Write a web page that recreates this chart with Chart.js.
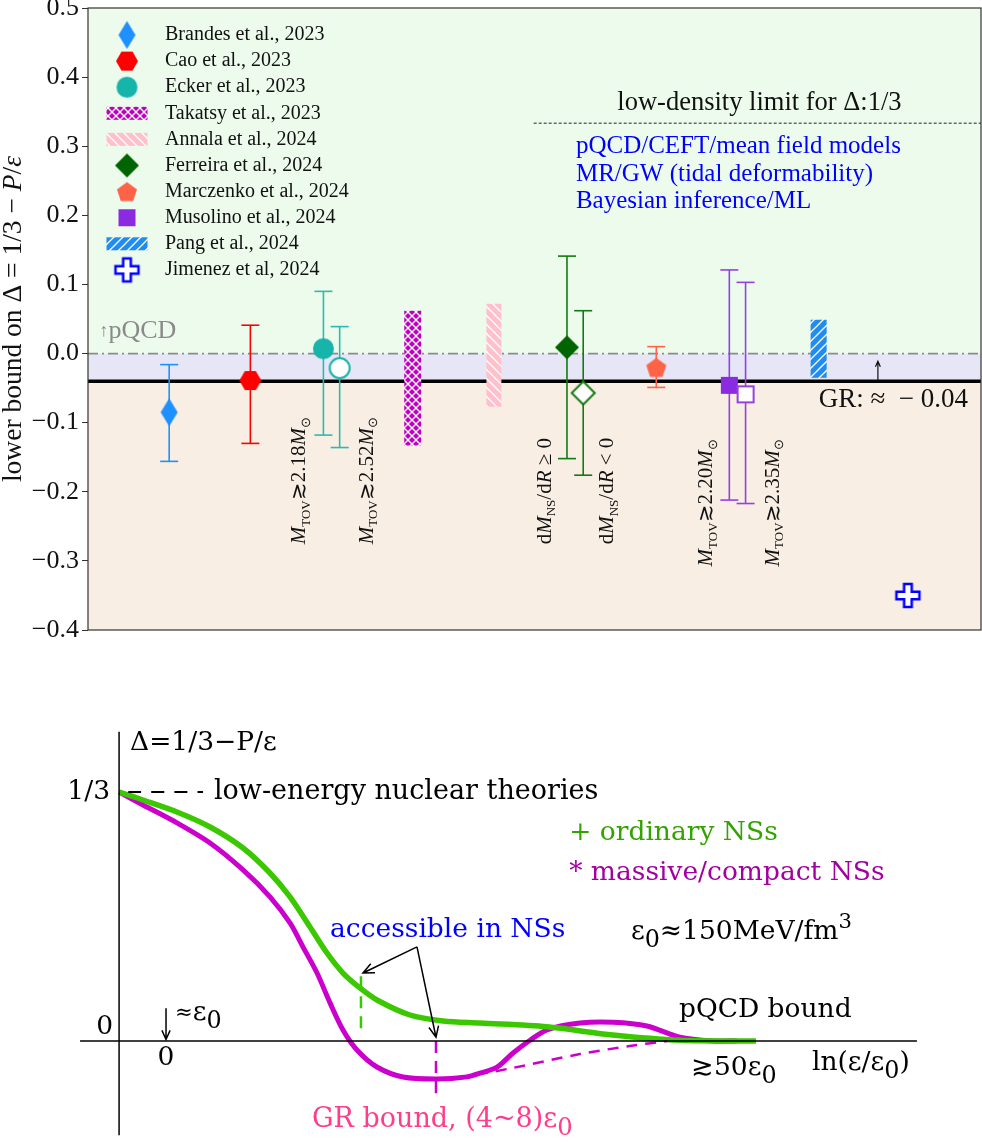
<!DOCTYPE html>
<html>
<head>
<meta charset="utf-8">
<script src="https://cdn.jsdelivr.net/npm/chart.js@4.4.1/dist/chart.umd.min.js"></script>
<style>
  body { margin: 0; background: #fff; }
  canvas { display: block; }
</style>
</head>
<body>
<canvas id="bounds" width="982" height="660"></canvas>
<canvas id="sketch" width="982" height="482"></canvas>
<script>
// ---- top panel: lower bounds on the trace anomaly ----
const studies = ['Brandes et al., 2023', 'Cao et al., 2023', 'Ecker et al., 2023', 'Takatsy et al., 2023',
  'Annala et al., 2024', 'Ferreira et al., 2024', 'Marczenko et al., 2024', 'Musolino et al., 2024',
  'Pang et al., 2024', 'Jimenez et al, 2024'];

// point estimates (x = slot on the horizontal axis)
const pointX = [1.0, 2.0, 2.9, 3.1, 5.9, 6.1, 7.0, 7.9, 8.1, 10.1];
const pointY = [-0.085, -0.039, 0.007, -0.021, 0.009, -0.057, -0.020, -0.046, -0.059, -0.350];
const errHi = [-0.016, 0.041, 0.090, 0.039, 0.141, 0.062, 0.010, 0.121, 0.103, null];
const errLo = [-0.156, -0.130, -0.118, -0.136, -0.152, -0.176, -0.049, -0.212, -0.217, null];

// ranges shown as hatched bands (Takatsy, Annala, Pang)
const bandX = [4, 5, 9];
const bandHi = [0.062, 0.072, 0.049];
const bandLo = [-0.133, -0.077, -0.035];

const pqcdBound = 0;
const grBound = -0.04;
const lowDensityLimit = 1 / 3;
const yTicks = [0.5, 0.4, 0.3, 0.2, 0.1, 0.0, -0.1, -0.2, -0.3, -0.4];

// ---- bottom panel: schematic Delta(ln eps/eps0) ----
const ordinaryX = [-0.326, -0.160, 0.076, 0.306, 0.535, 0.722, 0.861, 1.0, 1.118, 1.229, 1.347, 1.465, 1.694, 1.924, 2.181, 2.646, 3.104, 3.569, 4.097];
const ordinaryY = [0.3333, 0.3226, 0.3066, 0.2865, 0.2584, 0.2249, 0.1928, 0.1526, 0.1178, 0.0910, 0.0710, 0.0549, 0.0348, 0.0268, 0.024, 0.019, 0.008, 0.001, 0.0];
const massiveX = [-0.326, -0.160, 0.076, 0.306, 0.535, 0.722, 0.861, 0.951, 1.049, 1.139, 1.229, 1.326, 1.465, 1.646, 1.882, 2.090, 2.181, 2.299, 2.410, 2.528, 2.646, 2.875, 3.104, 3.340, 3.569, 3.799, 3.965];
const massiveY = [0.3333, 0.316, 0.292, 0.265, 0.229, 0.193, 0.158, 0.126, 0.091, 0.051, 0.0147, -0.012, -0.0348, -0.0482, -0.0509, -0.048, -0.043, -0.035, -0.016, 0.001, 0.015, 0.024, 0.025, 0.020, 0.005, 0.0, 0.0];
const monotoneX = [2.16, 2.41, 2.875, 3.22, 3.48];
const monotoneY = [-0.045, -0.036, -0.0175, -0.0067, 0.0];
const ordinaryMark = 1.354;   // ln(eps/eps0) where ordinary NSs end
const grMark = 1.875;         // ln(eps/eps0) of the GR bound
const pqcdOnset = 3.91;       // ln 50

const fontTop = '"Liberation Serif", "Times New Roman", serif';
const fontBot = '"DejaVu Serif", serif';

// ---------- helpers ----------
function makeMarker(shape, w, h, fill, stroke, lw) {
  const pad = 3;
  const c = document.createElement('canvas');
  c.width = Math.ceil(w + 2 * pad);
  c.height = Math.ceil(h + 2 * pad);
  const g = c.getContext('2d');
  g.translate(c.width / 2, c.height / 2);
  g.beginPath();
  if (shape === 'diamond') {
    g.moveTo(0, -h / 2); g.lineTo(w / 2, 0); g.lineTo(0, h / 2); g.lineTo(-w / 2, 0);
  } else if (shape === 'hexagon') {
    g.moveTo(w / 2, 0); g.lineTo(w / 4, -h / 2); g.lineTo(-w / 4, -h / 2);
    g.lineTo(-w / 2, 0); g.lineTo(-w / 4, h / 2); g.lineTo(w / 4, h / 2);
  } else if (shape === 'circle') {
    g.arc(0, 0, w / 2, 0, Math.PI * 2);
  } else if (shape === 'square') {
    g.rect(-w / 2, -h / 2, w, h);
  } else if (shape === 'pentagon') {
    const r = w / 2 / Math.sin(Math.PI * 2 / 5);
    for (let k = 0; k < 5; k++) {
      const a = -Math.PI / 2 + k * Math.PI * 2 / 5;
      g[k ? 'lineTo' : 'moveTo'](r * Math.cos(a), r * Math.sin(a) + r * 0.1);
    }
  } else if (shape === 'plus') {
    const t = w / 6;
    const s = w / 2;
    g.moveTo(-t, -s); g.lineTo(t, -s); g.lineTo(t, -t); g.lineTo(s, -t); g.lineTo(s, t); g.lineTo(t, t);
    g.lineTo(t, s); g.lineTo(-t, s); g.lineTo(-t, t); g.lineTo(-s, t); g.lineTo(-s, -t); g.lineTo(-t, -t);
  }
  g.closePath();
  g.fillStyle = fill;
  g.fill();
  if (stroke) { g.strokeStyle = stroke; g.lineWidth = lw; g.stroke(); }
  return c;
}

function hatch(ctx, base, kind, s) {
  const c = document.createElement('canvas');
  c.width = c.height = s;
  const g = c.getContext('2d');
  g.fillStyle = base;
  g.fillRect(0, 0, s, s);
  g.strokeStyle = '#fff';
  g.lineWidth = 1.3;
  const seg = (x1, y1, x2, y2) => { g.beginPath(); g.moveTo(x1, y1); g.lineTo(x2, y2); g.stroke(); };
  if (kind === '/' || kind === 'x') { seg(-1, s + 1, s + 1, -1); seg(-1, 1, 1, -1); seg(s - 1, s + 1, s + 1, s - 1); }
  if (kind === '\\' || kind === 'x') { seg(-1, -1, s + 1, s + 1); seg(s - 1, -1, s + 1, 1); seg(-1, s - 1, 1, s + 1); }
  return ctx.createPattern(c, 'repeat');
}

// runs: [text, kind, scale]  kind: '' | 'i' | 'sub' | 'sup'
function drawRuns(ctx, runs, x, y, size, family, color, align) {
  const fontOf = r => {
    const sc = r[2] || ((r[1] === 'sub' || r[1] === 'sup') ? 0.68 : 1);
    return (r[1] === 'i' ? 'italic ' : '') + (size * sc) + 'px ' + family;
  };
  let w = 0;
  runs.forEach(r => { ctx.font = fontOf(r); w += ctx.measureText(r[0]).width; });
  let cx = align === 'center' ? x - w / 2 : align === 'right' ? x - w : x;
  ctx.fillStyle = color;
  ctx.textBaseline = 'middle';
  ctx.textAlign = 'left';
  runs.forEach(r => {
    ctx.font = fontOf(r);
    const dy = r[1] === 'sub' ? size * 0.32 : r[1] === 'sup' ? -size * 0.35 : 0;
    ctx.fillText(r[0], cx, y + dy);
    cx += ctx.measureText(r[0]).width;
  });
  return w;
}

function drawArrow(ctx, x1, y1, x2, y2, head, color, lw) {
  const ang = Math.atan2(y2 - y1, x2 - x1);
  ctx.save();
  ctx.strokeStyle = color;
  ctx.lineWidth = lw;
  ctx.setLineDash([]);
  ctx.beginPath();
  ctx.moveTo(x1, y1); ctx.lineTo(x2, y2);
  ctx.moveTo(x2 - head * Math.cos(ang - 0.42), y2 - head * Math.sin(ang - 0.42));
  ctx.lineTo(x2, y2);
  ctx.lineTo(x2 - head * Math.cos(ang + 0.42), y2 - head * Math.sin(ang + 0.42));
  ctx.stroke();
  ctx.restore();
}

// ---------- top chart ----------
const topCanvas = document.getElementById('bounds');
const topCtx = topCanvas.getContext('2d');

const teal = '#17b4ab';
const markers = [
  makeMarker('diamond', 17, 28, '#1e90ff'),
  makeMarker('hexagon', 22, 19, '#ff0000'),
  makeMarker('circle', 21, 21, teal),
  makeMarker('circle', 20, 20, '#ffffff', teal, 2),
  makeMarker('diamond', 24, 24, '#006400'),
  makeMarker('diamond', 23, 23, '#ffffff', '#117a11', 2),
  makeMarker('pentagon', 20, 20, '#ff6347'),
  makeMarker('square', 17, 17, '#8a2be2'),
  makeMarker('square', 16, 16, '#ffffff', '#9440e4', 2),
  makeMarker('plus', 23, 23, '#ffffff', '#0000ff', 2.5)
];
const errColors = ['#1e90ff', '#ff0000', '#2bbab2', '#2bbab2', '#117a11', '#117a11', '#ff6347', '#9440e4', '#9440e4', null];

const bandFills = [
  hatch(topCtx, '#c000c0', 'x', 8),
  hatch(topCtx, '#ffc0cb', '\\', 9),
  hatch(topCtx, '#1e8cf0', '/', 9)
];
const bandWidths = [17, 15, 16];

const legendMarks = [markers[0], markers[1], markers[2], bandFills[0], bandFills[1],
  markers[4], markers[6], markers[7], bandFills[2], markers[9]];

const datasets = [];

pointX.forEach((x, i) => {
  if (errHi[i] === null) return;
  datasets.push({
    type: 'line',
    data: [{ x, y: errLo[i] }, { x, y: errHi[i] }],
    borderColor: errColors[i],
    borderWidth: 1.6,
    pointStyle: 'line',
    pointRadius: 9,
    pointBorderWidth: 1.6,
    pointBorderColor: errColors[i],
    order: 2
  });
});

bandX.forEach((x, i) => {
  datasets.push({
    type: 'bar',
    data: [{ x, y: [bandLo[i], bandHi[i]] }],
    backgroundColor: bandFills[i],
    borderWidth: 0,
    grouped: false,
    maxBarThickness: bandWidths[i],
    order: 3
  });
});

datasets.push({
  type: 'scatter',
  data: pointX.map((x, i) => ({ x, y: pointY[i] })),
  pointStyle: markers,
  pointRadius: 10,
  order: 0
});

const mtov = v => [['M', 'i'], ['TOV', 'sub', 0.62], ['≳' + v], ['M', 'i'], ['⊙', 'sub', 0.6]];
const dmdr = op => [['d'], ['M', 'i'], ['NS', 'sub', 0.62], ['/d'], ['R', 'i'], [op]];
const sideLabels = [
  { x: 2.61, y: -0.276, runs: mtov('2.18') },
  { x: 3.44, y: -0.276, runs: mtov('2.52') },
  { x: 5.63, y: -0.276, runs: dmdr(' ≥ 0') },
  { x: 6.40, y: -0.276, runs: dmdr(' < 0') },
  { x: 7.62, y: -0.308, runs: mtov('2.20') },
  { x: 8.44, y: -0.308, runs: mtov('2.35') }
];

const boundsDecor = {
  id: 'boundsDecor',
  beforeDatasetsDraw(chart) {
    const { ctx, chartArea: a, scales: { x, y } } = chart;
    ctx.save();
    const regions = [[y.max, pqcdBound, '#edfbed'], [pqcdBound, grBound, '#e6e6f7'], [grBound, y.min, '#f9eee3']];
    regions.forEach(([t, b, col]) => {
      const yt = y.getPixelForValue(t);
      ctx.fillStyle = col;
      ctx.fillRect(a.left, yt, a.width, y.getPixelForValue(b) - yt);
    });
    const y0 = y.getPixelForValue(pqcdBound);
    ctx.strokeStyle = '#8c8c8c';
    ctx.lineWidth = 1.8;
    ctx.setLineDash([10, 4, 2, 4]);
    ctx.beginPath(); ctx.moveTo(a.left, y0); ctx.lineTo(a.right, y0); ctx.stroke();

    const yg = y.getPixelForValue(grBound);
    ctx.setLineDash([]);
    ctx.strokeStyle = '#000';
    ctx.lineWidth = 3.5;
    ctx.beginPath(); ctx.moveTo(a.left, yg); ctx.lineTo(a.right, yg); ctx.stroke();

    const yl = y.getPixelForValue(lowDensityLimit);
    ctx.setLineDash([3, 2]);
    ctx.lineWidth = 1;
    ctx.strokeStyle = '#222';
    ctx.beginPath(); ctx.moveTo(x.getPixelForValue(5.49), yl); ctx.lineTo(a.right, yl); ctx.stroke();
    ctx.restore();
  },
  afterDatasetsDraw(chart) {
    const { ctx, chartArea: a, scales: { x, y } } = chart;
    const px = v => x.getPixelForValue(v);
    const py = v => y.getPixelForValue(v);
    ctx.save();
    ctx.strokeStyle = '#333';
    ctx.lineWidth = 1.2;
    ctx.strokeRect(a.left, a.top, a.width, a.height);

    // legend
    studies.forEach((name, i) => {
      const cy = a.top + 27 + 26.1 * i;
      const cx = a.left + 39;
      const m = legendMarks[i];
      if (m instanceof HTMLCanvasElement) {
        ctx.drawImage(m, cx - m.width / 2, cy - m.height / 2);
      } else {
        ctx.fillStyle = m;
        ctx.fillRect(cx - 20.5, cy - 6.5, 41, 13);
      }
      drawRuns(ctx, [[name]], a.left + 77, cy, 20, fontTop, '#111', 'left');
    });

    // notes
    drawRuns(ctx, [['low-density limit for Δ:1/3']], px(6.52), py(0.363), 26.5, fontTop, '#111', 'left');
    ['pQCD/CEFT/mean field models', 'MR/GW (tidal deformability)', 'Bayesian inference/ML'].forEach((t, i) => {
      drawRuns(ctx, [[t]], px(6.01), py(0.2996) + 27.5 * i, 25, fontTop, '#0000ff', 'left');
    });
    drawRuns(ctx, [['↑', '', 0.7], ['pQCD']], px(0.14), py(0.032), 26, fontTop, '#8a8a8a', 'left');
    drawRuns(ctx, [['GR: ≈  − 0.04']], px(9.0), py(-0.067), 27, fontTop, '#111', 'left');
    drawArrow(ctx, px(9.73), py(grBound) - 1, px(9.73), py(-0.011), 6, '#111', 1.2);

    sideLabels.forEach(l => {
      ctx.save();
      ctx.translate(px(l.x), py(l.y));
      ctx.rotate(-Math.PI / 2);
      drawRuns(ctx, l.runs, 0, 0, 21, fontTop, '#111', 'left');
      ctx.restore();
    });

    // y axis title
    ctx.save();
    ctx.translate(14, (a.top + a.bottom) / 2);
    ctx.rotate(-Math.PI / 2);
    drawRuns(ctx, [['lower bound on Δ = 1/3 − '], ['P', 'i'], ['/'], ['ε', 'i']], 0, 0, 27.5, fontTop, '#111', 'center');
    ctx.restore();
    ctx.restore();
  }
};

new Chart(topCanvas, {
  type: 'line',
  data: { datasets },
  options: {
    responsive: false,
    animation: false,
    events: [],
    layout: { autoPadding: false, padding: { top: 8, bottom: 30, left: 0, right: 1 } },
    plugins: { legend: { display: false }, tooltip: { enabled: false } },
    scales: {
      x: { type: 'linear', min: 0, max: 11, offset: false, display: false },
      y: {
        type: 'linear',
        min: -0.4,
        max: 0.5,
        afterBuildTicks: s => { s.ticks = yTicks.map(v => ({ value: v })); },
        afterFit: s => { s.width = 88; s.paddingTop = 0; s.paddingBottom = 0; },
        ticks: {
          padding: 3,
          color: '#111',
          font: { family: fontTop, size: 26 },
          callback: v => v.toFixed(1).replace('-', '−')
        },
        grid: { drawOnChartArea: false, drawTicks: true, tickLength: 6, color: '#333' },
        border: { display: false }
      }
    }
  },
  plugins: [boundsDecor]
});

// ---------- bottom chart ----------
const line = (xs, ys, color, width, dash) => ({
  type: 'line',
  data: xs.map((x, i) => ({ x, y: ys[i] })),
  borderColor: color,
  borderWidth: width,
  borderDash: dash || [],
  pointRadius: 0,
  tension: 0.3,
  borderCapStyle: 'butt',
  borderJoinStyle: 'round'
});

const sketchSets = [
  line([-0.326, -0.326], [0.414, -0.126], '#000', 1.5),
  line([-0.597, 5.215], [0, 0], '#000', 1.5),
  line([-0.262, 0.257], [lowDensityLimit, lowDensityLimit], '#000', 2, [13, 10]),
  line([ordinaryMark, ordinaryMark], [0.017, 0.088], '#3cc800', 2.5, [12, 8]),
  line([grMark, grMark], [0, -0.079], '#cc00cc', 2.5, [12, 8]),
  line(monotoneX, monotoneY, '#cc00cc', 2.5, [11, 8]),
  line(ordinaryX, ordinaryY, '#3cc800', 5.5),
  line(massiveX, massiveY, '#cc00cc', 5)
];

const sketchDecor = {
  id: 'sketchDecor',
  afterDatasetsDraw(chart) {
    const { ctx, scales: { x, y } } = chart;
    const px = v => x.getPixelForValue(v);
    const py = v => y.getPixelForValue(v);
    ctx.save();
    const apex = [1.743, 0.126];
    drawArrow(ctx, px(apex[0]), py(apex[1]), px(ordinaryMark + 0.014), py(0.091), 12, '#000', 1.5);
    drawArrow(ctx, px(apex[0]), py(apex[1]), px(grMark), py(0.005), 12, '#000', 1.5);
    drawArrow(ctx, px(0), py(0.044), px(0), py(0.002), 10, '#000', 1.5);

    const S = 26.5;
    drawRuns(ctx, [['Δ=1/3−P/ε']], px(-0.25), py(0.399), S, fontBot, '#000', 'left');
    drawRuns(ctx, [['1/3']], px(-0.389), py(lowDensityLimit), S, fontBot, '#000', 'right');
    drawRuns(ctx, [['0']], px(-0.368), py(0.019), S, fontBot, '#000', 'right');
    drawRuns(ctx, [['0']], px(0), py(-0.023), S, fontBot, '#000', 'center');
    drawRuns(ctx, [['≈', '', 0.8], ['ε'], ['0', 'sub', 0.9]], px(0.0625), py(0.037), S, fontBot, '#000', 'left');
    drawRuns(ctx, [['low-energy nuclear theories']], px(0.333), py(lowDensityLimit), 27, fontBot, '#000', 'left');
    drawRuns(ctx, [['+ ordinary NSs']], px(2.80), py(0.278), S, fontBot, '#33a300', 'left');
    drawRuns(ctx, [['* massive/compact NSs']], px(2.80), py(0.225), S, fontBot, '#a300a3', 'left');
    drawRuns(ctx, [['accessible in NSs']], px(1.139), py(0.1486), S, fontBot, '#0000ff', 'left');
    drawRuns(ctx, [['ε'], ['0', 'sub', 0.9], ['≈150MeV/fm'], ['3', 'sup', 0.8]], px(3.229), py(0.146), S, fontBot, '#000', 'left');
    drawRuns(ctx, [['pQCD bound']], px(3.5625), py(0.0415), S, fontBot, '#000', 'left');
    drawRuns(ctx, [['≳50ε'], ['0', 'sub', 0.9]], px(pqcdOnset - 0.264), py(-0.036), S, fontBot, '#000', 'left');
    drawRuns(ctx, [['ln(ε/ε'], ['0', 'sub', 0.9], [')']], px(4.486), py(-0.0295), S, fontBot, '#000', 'left');
    drawRuns(ctx, [['GR bound, (4~8)ε'], ['0', 'sub', 0.9]], px(1.014), py(-0.1058), 27, fontBot, '#ff3d8b', 'left');
    ctx.restore();
  }
};

new Chart(document.getElementById('sketch'), {
  type: 'line',
  data: { datasets: sketchSets },
  options: {
    responsive: false,
    animation: false,
    events: [],
    layout: { autoPadding: false, padding: 0 },
    plugins: { legend: { display: false }, tooltip: { enabled: false } },
    scales: {
      x: { type: 'linear', min: -1.153, max: 5.667, display: false },
      y: { type: 'linear', min: -0.1352, max: 0.51, display: false }
    }
  },
  plugins: [sketchDecor]
});
</script>
</body>
</html>
